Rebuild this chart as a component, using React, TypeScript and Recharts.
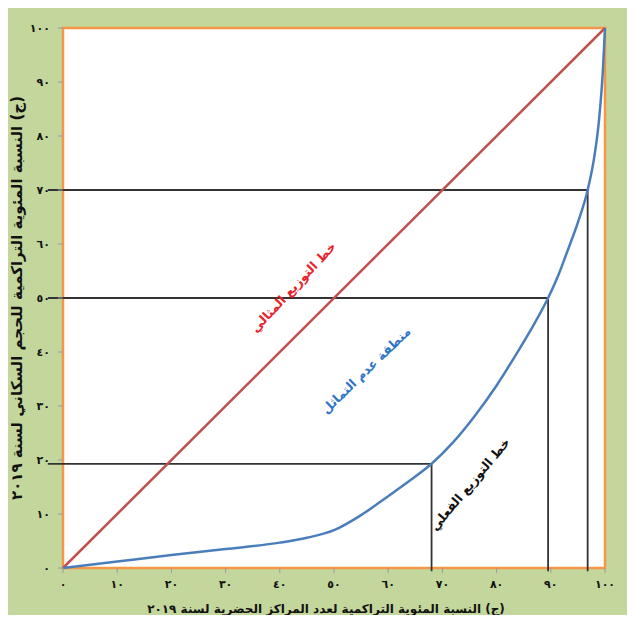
import { ComposedChart, Line, XAxis, YAxis, ReferenceArea, ReferenceLine, ReferenceDot } from "recharts";

const axisTicks = [0, 10, 20, 30, 40, 50, 60, 70, 80, 90, 100];

const idealX = [0, 100];
const idealY = [0, 100];

const actualX = [0, 10, 20, 30, 40, 45, 50, 55, 60, 64, 68, 72, 76, 80, 84, 87, 89.5, 91.5, 93, 95, 96.8, 98, 98.9, 99.6, 100];
const actualY = [0, 1.2, 2.4, 3.5, 4.7, 5.6, 7, 9.8, 13.3, 16.2, 19.3, 23.3, 28.2, 33.8, 40.2, 45.3, 50, 54.5, 58.5, 64, 70, 76, 83, 92, 100];

// points where the guide lines meet the curve
const guideX = [68, 89.5, 96.8];
const guideY = [19.3, 50, 70];

const xTitle = "(ج) النسبة المئوية التراكمية لعدد المراكز الحضرية لسنة ٢٠١٩";
const yTitle = "(ج) النسبة المئوية التراكمية للحجم السكاني لسنة ٢٠١٩";

const notes = [
  { text: "خط التوزيع المثالي", x: 42.6, y: 51.9, color: "#e8222a", angle: -47 },
  { text: "منطقة عدم التماثل", x: 56, y: 36.5, color: "#2e75c8", angle: -44 },
  { text: "خط التوزيع الفعلي", x: 75.2, y: 15.4, color: "#111", angle: -50 },
];

const idealData = idealX.map((x, i) => ({ x, y: idealY[i] }));
const actualData = actualX.map((x, i) => ({ x, y: actualY[i] }));

const arabicDigits = (v: number) => String(v).replace(/\d/g, (d) => "٠١٢٣٤٥٦٧٨٩"[Number(d)]);

const font = "'DejaVu Sans', sans-serif";
const tickStyle = { fill: "#111", fontSize: 11, fontWeight: 700, fontFamily: font };
const rtl = { direction: "rtl" as const, unicodeBidi: "embed" as const };

export default function App() {
  return (
    <div style={{ position: "relative", width: 635, height: 623, background: "#fff", margin: -8 }}>
      <div
        style={{
          position: "absolute",
          left: 5,
          top: 4,
          width: 624,
          height: 613,
          background: "#c3d69b",
          border: "1px solid #8a8f96",
        }}
      />
      <div style={{ position: "absolute", left: 0, top: 0 }}>
        <ComposedChart width={635} height={623} margin={{ top: 28, right: 30, left: 0, bottom: 0 }}>
          <XAxis
            dataKey="x"
            type="number"
            domain={[0, 100]}
            ticks={axisTicks}
            tickFormatter={arabicDigits}
            tick={tickStyle}
            tickLine={{ stroke: "#9a9a9a" }}
            tickSize={5}
            tickMargin={7}
            axisLine={false}
            height={55}
            label={{
              value: xTitle,
              position: "insideBottom",
              offset: 10,
              fill: "#111",
              fontSize: 12,
              fontWeight: 700,
              fontFamily: font,
              dx: -8,
              style: { ...rtl, textAnchor: "middle" },
            }}
          />
          <YAxis
            dataKey="y"
            type="number"
            domain={[0, 100]}
            ticks={axisTicks}
            tickFormatter={arabicDigits}
            tick={tickStyle}
            tickLine={{ stroke: "#9a9a9a" }}
            tickSize={5}
            tickMargin={8}
            axisLine={false}
            width={63}
            label={{
              value: yTitle,
              angle: -90,
              position: "insideLeft",
              offset: 17,
              fill: "#111",
              fontSize: 15,
              fontWeight: 700,
              fontFamily: font,
              style: { ...rtl, textAnchor: "middle" },
            }}
          />
          <ReferenceArea x1={0} x2={100} y1={0} y2={100} fill="#fff" fillOpacity={1} stroke="#f79646" strokeWidth={2.5} />
          {guideX.map((gx, i) => (
            <ReferenceLine
              key={"h" + i}
              segment={[{ x: -2.8, y: guideY[i] }, { x: gx, y: guideY[i] }]}
              stroke="#333"
              strokeWidth={1.8}
              ifOverflow="visible"
            />
          ))}
          {guideX.map((gx, i) => (
            <ReferenceLine
              key={"v" + i}
              segment={[{ x: gx, y: guideY[i] }, { x: gx, y: -0.6 }]}
              stroke="#333"
              strokeWidth={1.8}
              ifOverflow="visible"
            />
          ))}
          <Line data={idealData} dataKey="y" type="linear" stroke="#c0504d" strokeWidth={2.5} dot={false} isAnimationActive={false} />
          <Line data={actualData} dataKey="y" type="monotone" stroke="#4a7ebb" strokeWidth={2.5} dot={false} isAnimationActive={false} />
          {notes.map((n) => (
            <ReferenceDot
              key={n.text}
              x={n.x}
              y={n.y}
              r={1}
              isFront
              shape={(p: any) => (
                <text
                  x={p.cx}
                  y={p.cy}
                  transform={`rotate(${n.angle} ${p.cx} ${p.cy})`}
                  textAnchor="middle"
                  dominantBaseline="middle"
                  fill={n.color}
                  fontSize={12.5}
                  fontWeight={700}
                  fontFamily={font}
                  style={rtl}
                >
                  {n.text}
                </text>
              )}
            />
          ))}
        </ComposedChart>
      </div>
    </div>
  );
}
